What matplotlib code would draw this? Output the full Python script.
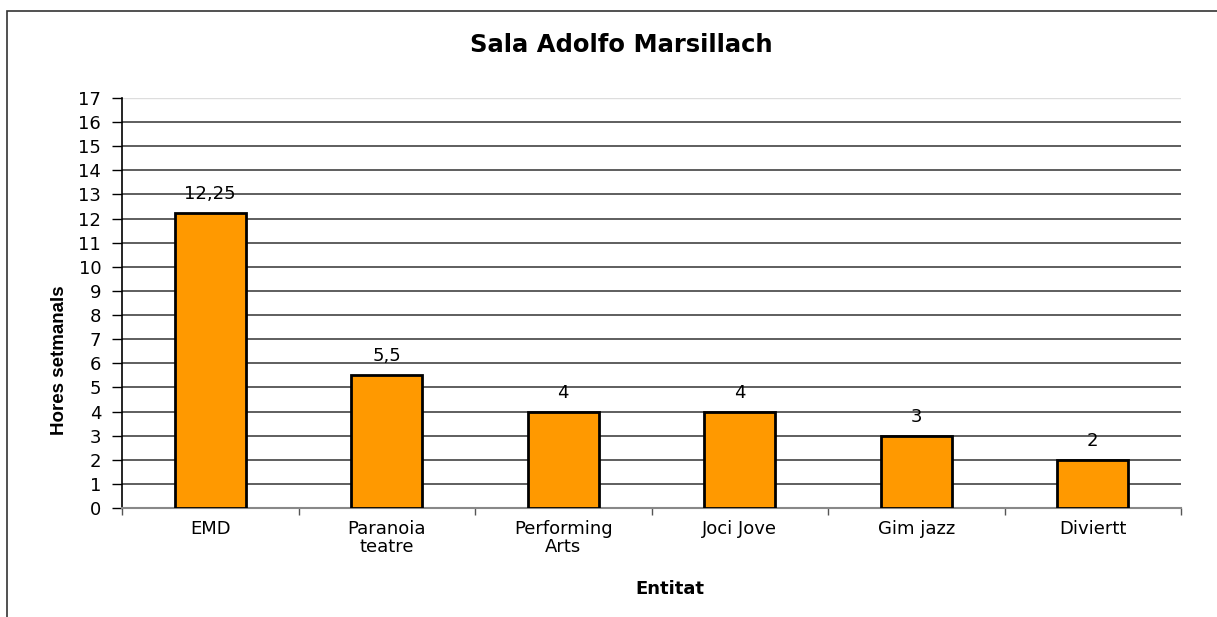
import matplotlib
matplotlib.use("Agg")
import matplotlib.pyplot as plt
from matplotlib.patches import Rectangle

categories = ["EMD", "Paranoia\nteatre", "Performing\nArts", "Joci Jove", "Gim jazz", "Diviertt"]
values = [12.25, 5.5, 4, 4, 3, 2]
value_labels = ["12,25", "5,5", "4", "4", "3", "2"]
yticks = list(range(0, 18))

plt.rcParams['font.family'] = ['DejaVu Sans']

W, H = 1217, 617
fig = plt.figure(figsize=(W / 100, H / 100), dpi=100)
ax = fig.add_axes([122 / W, 1 - 508 / H, (1181 - 122) / W, (508 - 98) / H])

x = list(range(len(categories)))
ax.bar(x, values, width=0.4, color="#FF9900", edgecolor="black", linewidth=2, zorder=3)
for xi, v, lab in zip(x, values, value_labels):
    ax.annotate(lab, (xi, v), xytext=(0, 14), textcoords="offset pixels",
                ha="center", va="baseline", fontsize=13, zorder=4)

ax.set_xlim(-0.5, len(categories) - 0.5)
ax.set_ylim(0, 17)
ax.set_yticks(yticks)
ax.tick_params(axis="y", labelsize=13, length=7, width=1, direction="out", pad=8)
ax.set_xticks(x)
ax.set_xticklabels(categories, fontsize=13, linespacing=1.0)
ax.tick_params(axis="x", length=0, pad=9)
ax.set_xticks([i - 0.5 for i in range(len(categories) + 1)], minor=True)
ax.tick_params(axis="x", which="minor", length=5, width=1, direction="out", color="#555555")

for y in yticks[1:-1]:
    ax.axhline(y, color="#333333", linewidth=1.1, zorder=1)
ax.axhline(17, color="#dddddd", linewidth=1, zorder=1)

for s in ["top", "right"]:
    ax.spines[s].set_visible(False)
ax.spines["left"].set_linewidth(1.2)
ax.spines["bottom"].set_color("#888888")
ax.spines["bottom"].set_linewidth(1.5)

fig.text(621 / W, 1 - 45 / H, "Sala Adolfo Marsillach", ha="center", va="center",
         fontsize=17.5, fontweight="bold")
fig.text(60 / W, 1 - 360 / H, "Hores setmanals", ha="center", va="center", rotation=90,
         fontsize=13.5, fontweight="bold", family=['Liberation Sans'])
fig.text(670 / W, 1 - 589 / H, "Entitat", ha="center", va="center",
         fontsize=13, fontweight="bold")

fig.patches.append(Rectangle((7 / W, -0.2), 2.0, 1 - 11 / H + 0.2, transform=fig.transFigure,
                             fill=False, edgecolor="#333333", linewidth=1.2))

fig.savefig("out.png", dpi=100)
